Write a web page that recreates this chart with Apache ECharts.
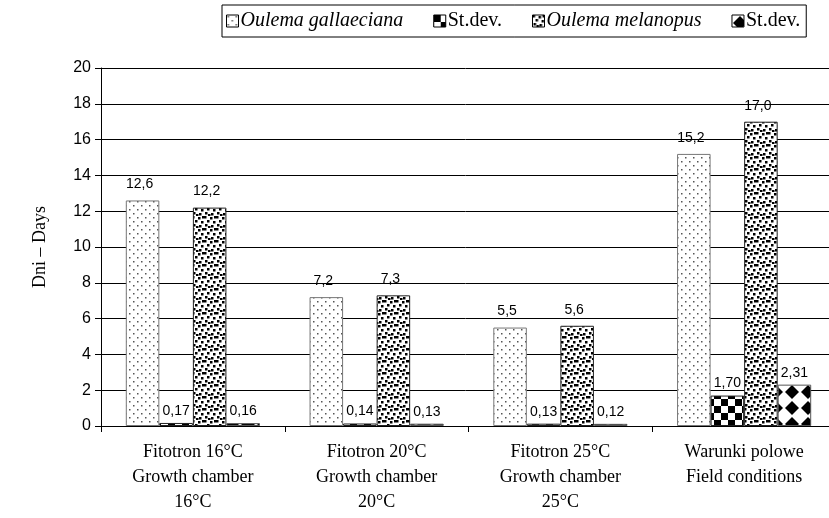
<!DOCTYPE html>
<html><head><meta charset="utf-8">
<script src="https://cdn.jsdelivr.net/npm/echarts@6/dist/echarts.min.js"></script>
<style>html,body{margin:0;padding:0;background:#fff}#c{width:829px;height:518px}</style>
</head><body><div id="c"></div>
<script>
var categories = ['Fitotron 16°C\nGrowth chamber\n16°C', 'Fitotron 20°C\nGrowth chamber\n20°C', 'Fitotron 25°C\nGrowth chamber\n25°C', 'Warunki polowe\nField conditions'];
var seriesNames = ['Oulema gallaeciana', 'St.dev.', 'Oulema melanopus', 'St.dev.\u200b'];
var gallaeciana = [12.6, 7.2, 5.5, 15.2];
var sdGallaeciana = [0.17, 0.14, 0.13, 1.70];
var melanopus = [12.2, 7.3, 5.6, 17.0];
var sdMelanopus = [0.16, 0.13, 0.12, 2.31];
var yTicks = [0, 2, 4, 6, 8, 10, 12, 14, 16, 18, 20];

function makeCanvas(w, h, draw) {
  var c = document.createElement('canvas'); c.width = w; c.height = h;
  var g = c.getContext('2d'); g.fillStyle = '#fff'; g.fillRect(0, 0, w, h);
  draw(g); return c;
}
var pDots = makeCanvas(8, 8, function (g) {
  g.fillStyle = '#555';
  g.fillRect(1, 1, 1.5, 1.5); g.fillRect(5, 5, 1.5, 1.5);
});
var pChecker = makeCanvas(14, 14, function (g) {
  g.fillStyle = '#000'; g.fillRect(0, 0, 7, 7); g.fillRect(7, 7, 7, 7);
});
var pSquares = makeCanvas(12, 12, function (g) {
  g.fillStyle = '#000';
  var pts = [[0,0],[6,1],[3,4],[9,5],[1,8],[7,9],[10,0],[4,10]];
  pts.forEach(function (p) { g.fillRect(p[0], p[1], 2.5, 2.5); });
});
var pDiamonds = makeCanvas(16, 16, function (g) {
  g.fillStyle = '#000';
  g.beginPath(); g.moveTo(8, 1); g.lineTo(15, 8); g.lineTo(8, 15); g.lineTo(1, 8); g.closePath(); g.fill();
});
var patterns = [pDots, pChecker, pSquares, pDiamonds];
var datas = [gallaeciana, sdGallaeciana, melanopus, sdMelanopus];
var decimals = [1, 2, 1, 2];
var borders = ['#777', '#222', '#222', '#555'];
var labelDist = [9, 5, 9, 5];

var chart = echarts.init(document.getElementById('c'), null, {renderer: 'canvas'});
chart.setOption({
  animation: false,
  backgroundColor: '#fff',
  legend: {
    top: 5, left: 222,
    data: seriesNames,
    borderColor: '#000', borderWidth: 1,
    padding: [6, 6, 6, 4],
    itemWidth: 12, itemHeight: 12, itemGap: 30,
    icon: 'rect',
    itemStyle: {borderColor: '#000', borderWidth: 1},
    textStyle: {fontFamily: 'Liberation Serif', fontSize: 20, color: '#000', padding: [0, 0, 0, -3],
      rich: {
        i: {fontFamily: 'Liberation Serif', fontStyle: 'italic', fontSize: 20, color: '#000'},
        n: {fontFamily: 'Liberation Serif', fontSize: 20, color: '#000'}
      }},
    formatter: function (n) {
      return n.indexOf('Oulema') === 0 ? '{i|' + n + '}' : '{n|St.dev.}';
    }
  },
  grid: {left: 101, width: 735, top: 68, bottom: 92, containLabel: false, outerBoundsMode: 'none'},
  xAxis: {
    type: 'category', data: categories,
    axisLine: {lineStyle: {color: '#000', width: 1}},
    axisTick: {show: true, length: 6, lineStyle: {color: '#000'}},
    axisLabel: {fontFamily: 'Liberation Serif', fontSize: 18, color: '#000', lineHeight: 25, margin: 14, interval: 0}
  },
  yAxis: {
    type: 'value', min: 0, max: 20, interval: 2,
    name: 'Dni – Days', nameLocation: 'middle', nameGap: 52,
    nameTextStyle: {fontFamily: 'Liberation Serif', fontSize: 18, color: '#000'},
    axisLine: {show: true, lineStyle: {color: '#000'}},
    axisTick: {show: true, length: 6, lineStyle: {color: '#000'}},
    splitLine: {lineStyle: {color: '#000', width: 1}},
    axisLabel: {fontFamily: 'Liberation Sans', fontSize: 16, color: '#000', margin: 10,
      formatter: function (v) { return yTicks.indexOf(v) >= 0 ? String(v) : ''; }}
  },
  series: seriesNames.map(function (n, i) {
    return {
      name: n, type: 'bar', data: datas[i],
      barGap: '0%', barCategoryGap: '27%',
      itemStyle: {color: {image: patterns[i], repeat: 'repeat'}, borderColor: borders[i], borderWidth: 1},
      label: {show: true, position: 'top', distance: labelDist[i], offset: [i % 2 === 0 ? -3 : 0, 0],
        fontFamily: 'Liberation Sans', fontSize: 14, color: '#000',
        formatter: function (p) { return p.value.toFixed(decimals[i]).replace('.', ','); }}
    };
  })
});
</script></body></html>
